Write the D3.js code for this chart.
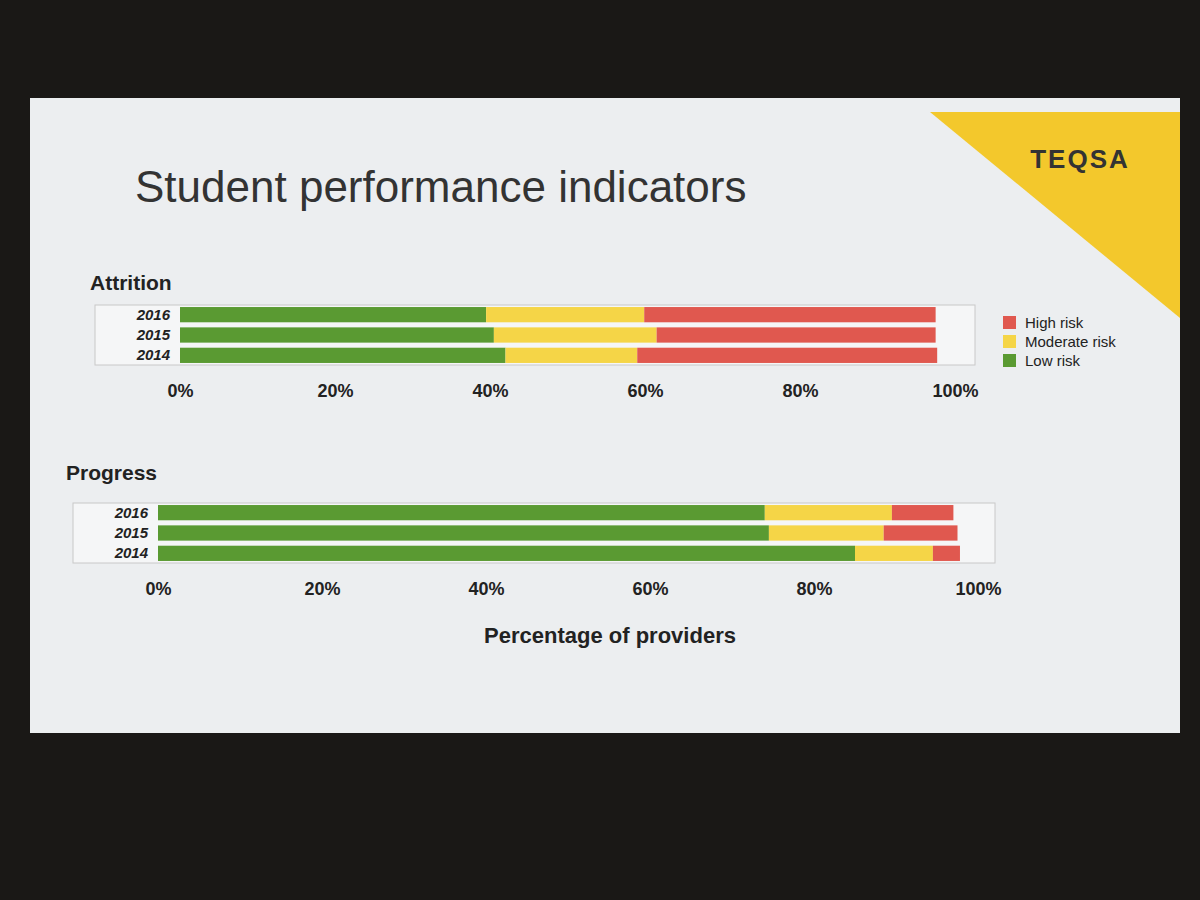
<!DOCTYPE html><html><head><meta charset="utf-8"><script src="https://cdn.jsdelivr.net/npm/d3@7"></script>
<style>body{margin:0;background:#111}</style></head><body><svg id="c" width="1200" height="900"></svg>
<script>
const years=["2016","2015","2014"];
const series=["Low risk","Moderate risk","High risk"];
const colors=["#5a9a32","#f5d547","#e0584f"];
const attrition=[[39.5,20.4,37.6],[40.5,21,36],[42,17,38.7]];
const progress=[[74,15.5,7.5],[74.5,14,9],[85,9.5,3.3]];
const ticks=[0,20,40,60,80,100];
const svg=d3.select("#c");
svg.append("rect").attr("width",1200).attr("height",900).attr("fill","#1a1816");
svg.append("rect").attr("x",30).attr("y",98).attr("width",1150).attr("height",635).attr("fill","#eceef0");
svg.append("path").attr("d","M930,112 L1180,112 L1180,318 Z").attr("fill","#f3c82c");
svg.append("text").attr("x",1080).attr("y",168).attr("text-anchor","middle").attr("font-family","Liberation Sans, Arial").attr("font-size",26).attr("font-weight","bold").attr("fill","#333").attr("letter-spacing",2).text("TEQSA");
svg.append("text").attr("x",135).attr("y",202).attr("font-family","Liberation Sans, Arial").attr("font-size",44).attr("fill","#333").text("Student performance indicators");
function panel(title,data,x0,x1,top,tx,ty,frameR){
  const x=d3.scaleLinear().domain([0,100]).range([x0,x1]);
  const y=d3.scaleBand().domain(years).range([top,top+60]).paddingInner(0.25).paddingOuter(0.1);
  const g=svg.append("g");
  g.append("text").attr("x",tx).attr("y",ty).attr("font-family","Liberation Sans, Arial").attr("font-size",21).attr("font-weight","bold").attr("fill","#222").text(title);
  g.append("rect").attr("x",x0-85).attr("y",top).attr("width",frameR-(x0-85)).attr("height",60).attr("fill","#f5f6f7").attr("stroke","#c8c8c8");
  data.forEach((row,i)=>{let acc=0;row.forEach((v,j)=>{
    g.append("rect").attr("x",x(acc)).attr("y",y(years[i])).attr("width",x(acc+v)-x(acc)).attr("height",y.bandwidth()).attr("fill",colors[j]);acc+=v;});
    g.append("text").attr("x",x0-10).attr("y",y(years[i])+y.bandwidth()/2+5).attr("text-anchor","end").attr("font-family","Liberation Sans, Arial").attr("font-size",15).attr("font-weight","bold").attr("font-style","italic").attr("fill","#222").text(years[i]);
  });
  const ax=g.append("g").attr("transform",`translate(0,${top+76})`).call(d3.axisBottom(x).tickValues(ticks).tickFormat(d=>d+"%").tickSize(0));
  ax.select(".domain").remove();
  ax.selectAll("text").attr("font-family","Liberation Sans, Arial").attr("font-size",18).attr("font-weight","bold").attr("fill","#222");
}
panel("Attrition",attrition,180,955,305,90,290,975);
panel("Progress",progress,158,978,503,66,480,995);
svg.append("text").attr("x",610).attr("y",643).attr("text-anchor","middle").attr("font-family","Liberation Sans, Arial").attr("font-size",22).attr("font-weight","bold").attr("fill","#222").text("Percentage of providers");
const leg=svg.append("g");
["High risk","Moderate risk","Low risk"].forEach((s,i)=>{
  leg.append("rect").attr("x",1003).attr("y",316+i*19).attr("width",13).attr("height",13).attr("fill",colors[2-i]);
  leg.append("text").attr("x",1025).attr("y",328+i*19).attr("font-family","Liberation Sans, Arial").attr("font-size",15).attr("fill","#222").text(s);
});
</script></body></html>
